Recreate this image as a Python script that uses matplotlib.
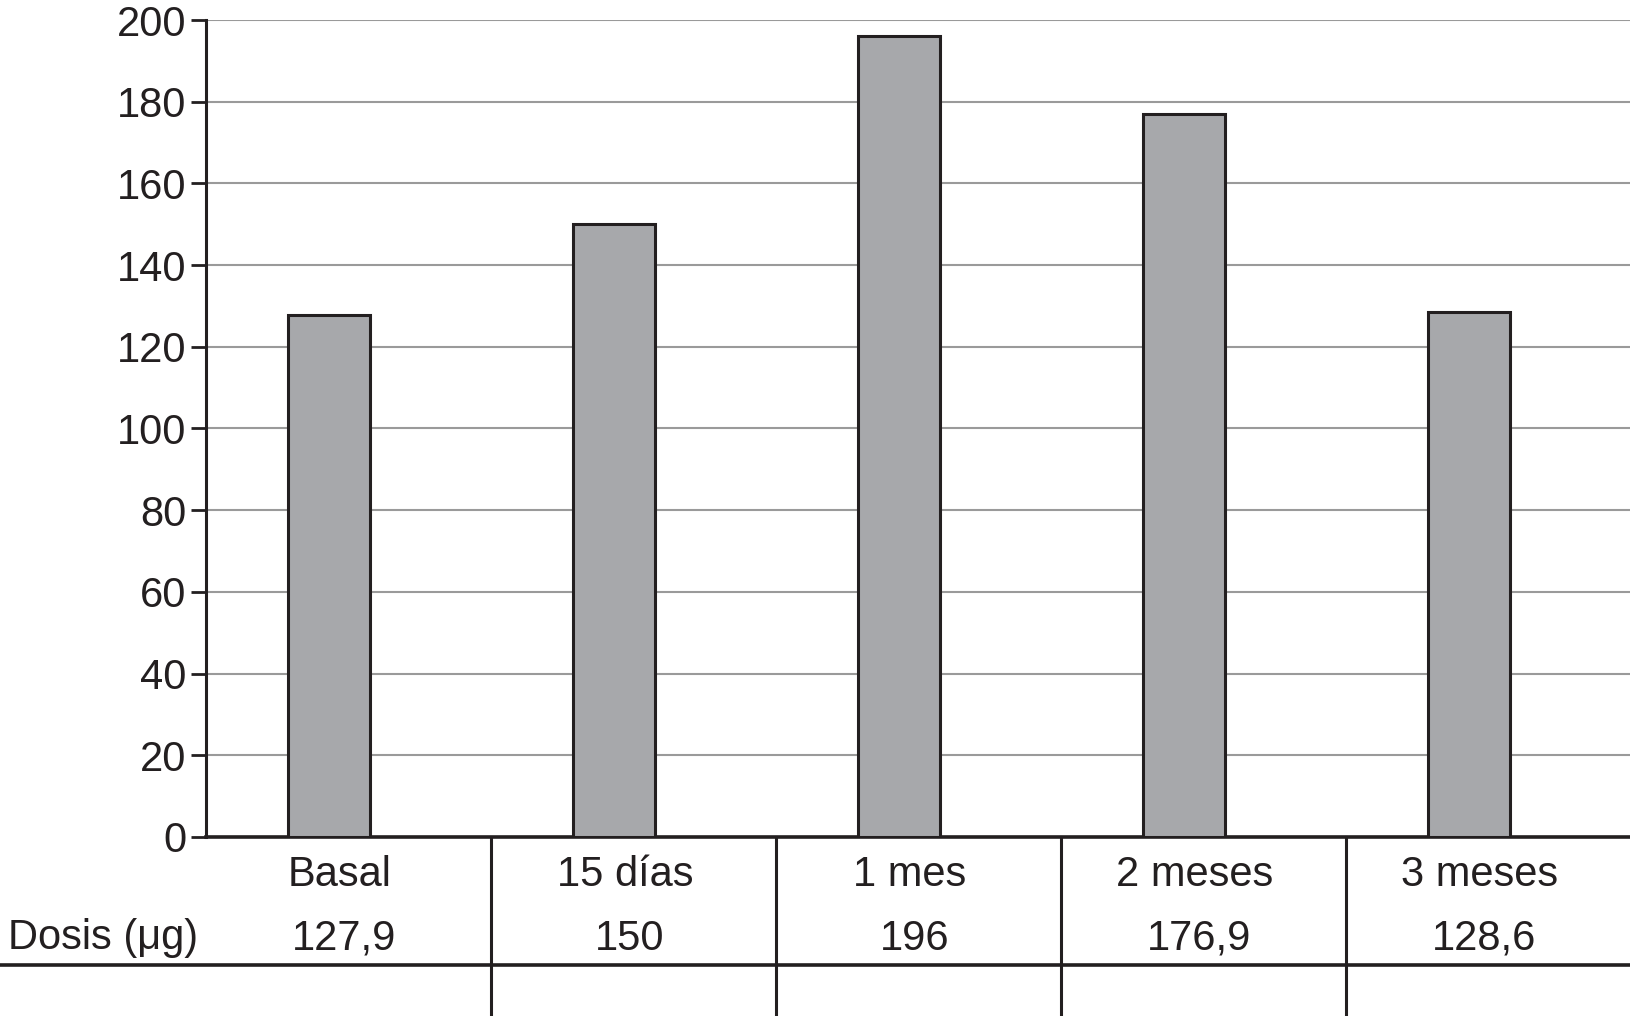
#!/usr/bin/env python3

import matplotlib
matplotlib.use("Agg")
import matplotlib.pyplot as plt
from matplotlib.lines import Line2D

plt.rcParams["font.family"] = ["Liberation Sans", "DejaVu Sans"]

# data
categories = ["Basal", "15 días", "1 mes", "2 meses", "3 meses"]
dosis = [127.9, 150, 196, 176.9, 128.6]
dosis_labels = ["127,9", "150", "196", "176,9", "128,6"]
yticks = list(range(0, 201, 20))

ink = "#231f20"

fig = plt.figure(figsize=(16.31, 10.16), dpi=100)
ax = fig.add_axes([0.1263, 0.1762, 0.8737, 0.8041])

x = range(len(categories))
ax.bar([i - 0.0675 for i in x], dosis, width=0.288, color="#a7a8ab",
       edgecolor=ink, linewidth=2.2, zorder=3)

ax.set_xlim(-0.5, len(categories) - 0.5)
ax.set_ylim(0, 200)
ax.set_yticks(yticks)
ax.set_yticklabels([str(t) for t in yticks], fontsize=30, color=ink)
ax.set_xticks([])
ax.tick_params(axis="y", length=11, width=2, color=ink, pad=3)
ax.yaxis.grid(True, color="#9a9a9a", linewidth=1.5, zorder=0)

for s in ["top", "right"]:
  ax.spines[s].set_visible(False)
ax.spines["left"].set_linewidth(2.2)
ax.spines["left"].set_color(ink)
ax.spines["bottom"].set_linewidth(2.6)
ax.spines["bottom"].set_color(ink)

# table below the axis
trans = ax.get_xaxis_transform()
row1 = -0.047
row2 = -0.1245
for i, (c, d) in enumerate(zip(categories, dosis_labels)):
  ax.text(i - 0.03, row1, c, transform=trans, ha="center", va="center",
          fontsize=30, color=ink)
  ax.text(i - 0.015, row2, d, transform=trans, ha="center", va="center",
          fontsize=30, color=ink)

fig.text(8 / 1631, 1 - 938 / 1016, "Dosis (μg)", ha="left", va="center",
         fontsize=30, color=ink)

for b in [0.5, 1.5, 2.5, 3.5]:
  ax.plot([b, b], [0, -0.3], transform=trans, color=ink, linewidth=2.2,
          clip_on=False)

yline = 1 - 965 / 1016
fig.add_artist(Line2D([0, 1], [yline, yline], color=ink, linewidth=2.6))

plt.savefig("out.png", dpi=100)
